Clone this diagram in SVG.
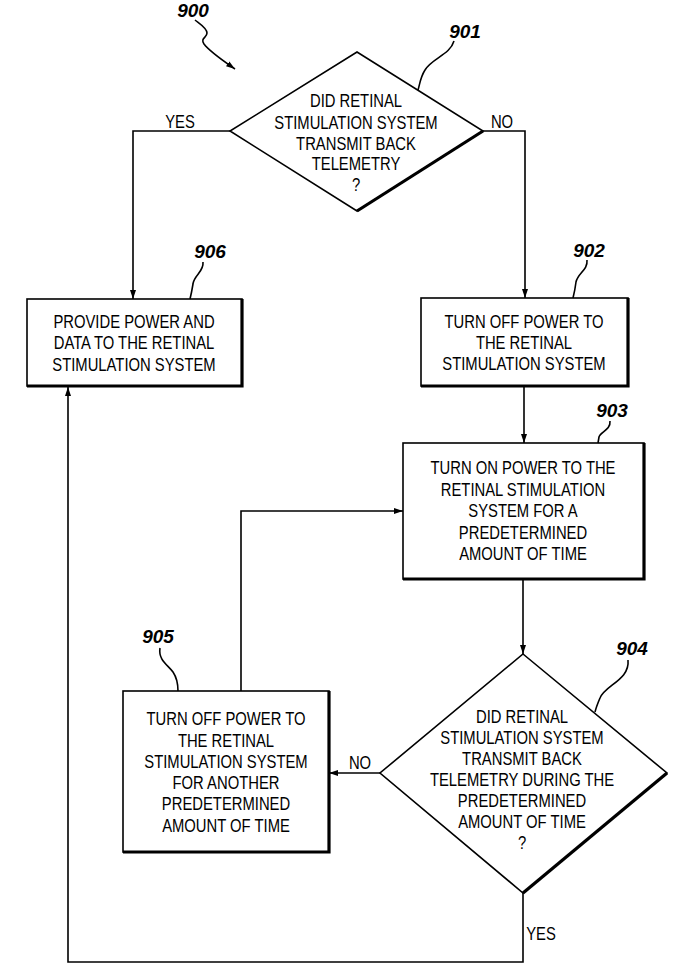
<svg xmlns="http://www.w3.org/2000/svg" width="678" height="977" viewBox="0 0 678 977">
<defs>
<style>
.box{fill:#fff;stroke:#000;stroke-width:1.6}
.shadow{fill:none;stroke:#000;stroke-width:3.2;stroke-linejoin:miter}
.t{font-family:"Liberation Sans",Arial,sans-serif;font-size:18.5px;fill:#000;text-anchor:middle}
.num{font-family:"Liberation Sans","DejaVu Sans",Arial,sans-serif;font-size:19px;font-style:italic;font-weight:bold;fill:#000;text-anchor:middle}
.lead{fill:none;stroke:#000;stroke-width:1.6}
.con{fill:none;stroke:#000;stroke-width:1.6}
</style>
<marker id="ah" markerUnits="userSpaceOnUse" markerWidth="9" markerHeight="6" refX="9" refY="3" orient="auto">
<path d="M0,0 L9,3 L0,6 z" fill="#000"/>
</marker>
</defs>
<rect width="678" height="977" fill="#fff"/>

<g id="connectors">
<path class="con" d="M230,131 H133 V299" marker-end="url(#ah)"/>
<path class="con" d="M483,131 H525 V298" marker-end="url(#ah)"/>
<path class="con" d="M524,386 V443" marker-end="url(#ah)"/>
<path class="con" d="M523,579 V654" marker-end="url(#ah)"/>
<path class="con" d="M380,773 H329" marker-end="url(#ah)"/>
<path class="con" d="M241,691 V511 H403" marker-end="url(#ah)"/>
<path class="con" d="M523,893 V962 H68 V387" marker-end="url(#ah)"/>
<g transform="translate(180 0) scale(0.8 1)"><text class="t" x="0" y="128">YES</text></g>
<g transform="translate(502 0) scale(0.8 1)"><text class="t" x="0" y="128">NO</text></g>
<g transform="translate(360 0) scale(0.8 1)"><text class="t" x="0" y="769">NO</text></g>
<g transform="translate(541 0) scale(0.8 1)"><text class="t" x="0" y="940">YES</text></g>
</g>

<g id="label-900">
<text class="num" x="193" y="17">900</text>
<path class="lead" d="M195,20 C200,24 207,28 207,33 C207,38 200,38 204,44 C210,52 225,62 235,69" marker-end="url(#ah)"/>
</g>

<g id="node-901">
<polygon class="box" points="357,52 483,131 357,211 230,131"/>
<path class="shadow" d="M483,131 L357,211"/>
<g transform="translate(356 0) scale(0.8 1)">
<text class="t" x="0" y="107.5">DID RETINAL</text>
<text class="t" x="0" y="129">STIMULATION SYSTEM</text>
<text class="t" x="0" y="150">TRANSMIT BACK</text>
<text class="t" x="0" y="170">TELEMETRY</text>
<text class="t" x="0" y="191">?</text>
</g>
<text class="num" x="465" y="38">901</text>
<path class="lead" d="M454,41 C450,55 432,58 425,70 C420,78 420,84 418,90"/>
</g>

<g id="node-906">
<rect class="box" x="27" y="299" width="215" height="87"/>
<path class="shadow" d="M27,386 H242 V299"/>
<g transform="translate(134 0) scale(0.8 1)">
<text class="t" x="0" y="328.5">PROVIDE POWER AND</text>
<text class="t" x="0" y="349.5">DATA TO THE RETINAL</text>
<text class="t" x="0" y="371">STIMULATION SYSTEM</text>
</g>
<text class="num" x="210" y="258">906</text>
<path class="lead" d="M203,262 C204,272 194,275 193,284 C192,290 191,295 190,299"/>
</g>

<g id="node-902">
<rect class="box" x="421" y="298" width="207" height="88"/>
<path class="shadow" d="M421,386 H628 V298"/>
<g transform="translate(524 0) scale(0.8 1)">
<text class="t" x="0" y="328.5">TURN OFF POWER TO</text>
<text class="t" x="0" y="349.5">THE RETINAL</text>
<text class="t" x="0" y="370.5">STIMULATION SYSTEM</text>
</g>
<text class="num" x="589" y="257">902</text>
<path class="lead" d="M587,260 C588,270 578,273 576,282 C575,290 574,294 573,298"/>
</g>

<g id="node-903">
<rect class="box" x="403" y="443" width="241" height="136"/>
<path class="shadow" d="M403,579 H644 V443"/>
<g transform="translate(523 0) scale(0.8 1)">
<text class="t" x="0" y="474.5">TURN ON POWER TO THE</text>
<text class="t" x="0" y="496">RETINAL STIMULATION</text>
<text class="t" x="0" y="517.5">SYSTEM FOR A</text>
<text class="t" x="0" y="539">PREDETERMINED</text>
<text class="t" x="0" y="560">AMOUNT OF TIME</text>
</g>
<text class="num" x="612" y="417">903</text>
<path class="lead" d="M610,421 C611,430 600,432 599,437 L598,443"/>
</g>

<g id="node-904">
<polygon class="box" points="523,654 667,773 523,893 380,773"/>
<path class="shadow" d="M667,773 L523,893"/>
<g transform="translate(522 0) scale(0.8 1)">
<text class="t" x="0" y="723.5">DID RETINAL</text>
<text class="t" x="0" y="744">STIMULATION SYSTEM</text>
<text class="t" x="0" y="765">TRANSMIT BACK</text>
<text class="t" x="0" y="786">TELEMETRY DURING THE</text>
<text class="t" x="0" y="807">PREDETERMINED</text>
<text class="t" x="0" y="828">AMOUNT OF TIME</text>
<text class="t" x="0" y="849">?</text>
</g>
<text class="num" x="632" y="655">904</text>
<path class="lead" d="M628,660 C630,680 605,685 600,698 C597,705 596,708 595,712"/>
</g>

<g id="node-905">
<rect class="box" x="123" y="691" width="206" height="161"/>
<path class="shadow" d="M123,852 H329 V691"/>
<g transform="translate(226 0) scale(0.8 1)">
<text class="t" x="0" y="725.5">TURN OFF POWER TO</text>
<text class="t" x="0" y="747">THE RETINAL</text>
<text class="t" x="0" y="768">STIMULATION SYSTEM</text>
<text class="t" x="0" y="789">FOR ANOTHER</text>
<text class="t" x="0" y="810.5">PREDETERMINED</text>
<text class="t" x="0" y="832">AMOUNT OF TIME</text>
</g>
<text class="num" x="158" y="643">905</text>
<path class="lead" d="M160,648 C158,660 168,665 173,672 C177,678 178,685 178,691"/>
</g>
</svg>
